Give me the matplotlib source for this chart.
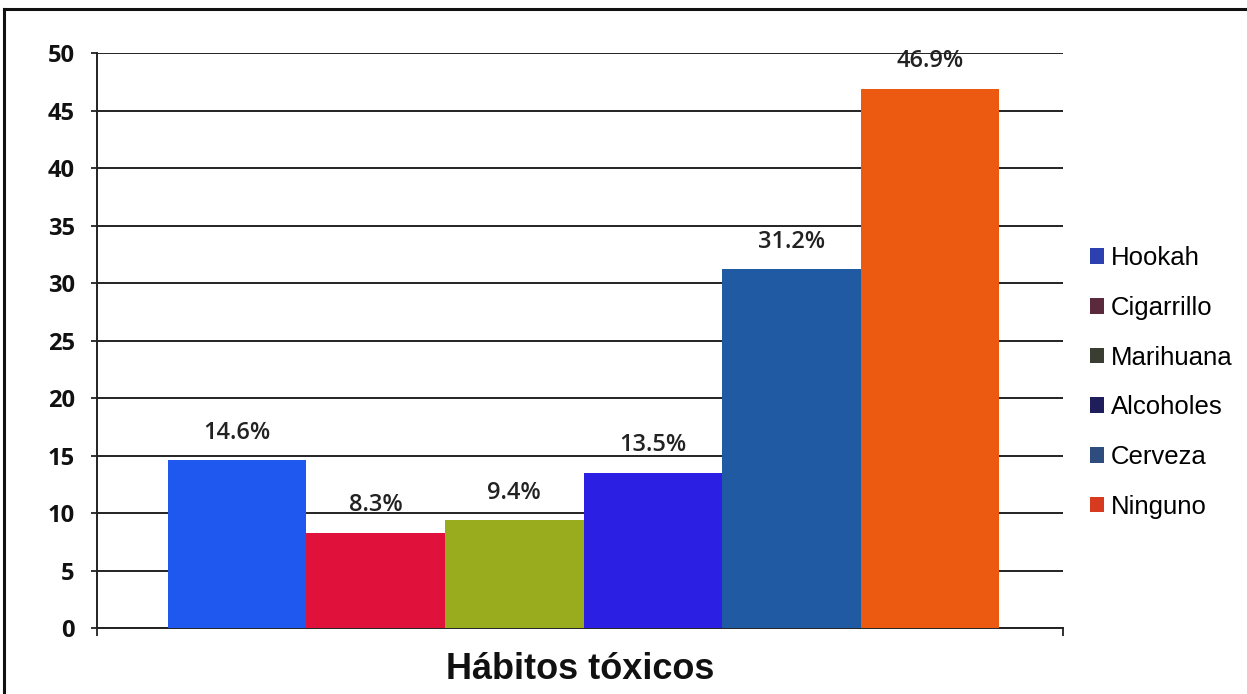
import matplotlib
matplotlib.use("Agg")
import matplotlib.pyplot as plt
from matplotlib.patches import Patch
from matplotlib.lines import Line2D

habits = ["Hookah", "Cigarrillo", "Marihuana", "Alcoholes", "Cerveza", "Ninguno"]
percent = [14.6, 8.3, 9.4, 13.5, 31.2, 46.9]
bar_colours = ["#1f58ee", "#e0123c", "#98ac1e", "#2a1fe2", "#1f5aa2", "#ec5a12"]
legend_colours = ["#2c40b0", "#5a2a3c", "#3a3d32", "#1f1d5c", "#2f4c7e", "#d83a20"]
y_ticks = [0, 5, 10, 15, 20, 25, 30, 35, 40, 45, 50]

figure = plt.figure(figsize=(12.47, 6.94), dpi=100)
axes = figure.add_axes([0.0778, 0.0951, 0.7747, 0.8285])

positions = list(range(len(habits)))
axes.bar(positions, percent, width=1.0, color=bar_colours, zorder=3)
for x, v in zip(positions, percent):
    axes.annotate("%.1f%%" % v, (x, v), xytext=(0, 11), textcoords="offset points",
                  ha="center", va="bottom", fontsize=17, family="Open Sans",
                  fontweight="semibold", color="#222222")

axes.set_ylim(0, 50)
axes.set_xlim(-1.01, 5.96)
axes.set_yticks(y_ticks)
axes.set_yticklabels([str(t) for t in y_ticks], fontsize=17, fontweight="bold",
                     family="Open Sans", color="#111111")
axes.set_xticks([-1.01, 5.96])
axes.set_xticklabels(["", ""])
axes.tick_params(axis="y", length=4, width=1.3, pad=12, color="#222222")
axes.tick_params(axis="x", length=6, width=1.3, color="#222222")
axes.grid(axis="y", color="#222222", linewidth=1.4, zorder=0)
for side in ["top", "right"]:
    axes.spines[side].set_visible(False)
for side in ["left", "bottom"]:
    axes.spines[side].set_linewidth(1.4)
    axes.spines[side].set_color("#222222")
axes.set_xlabel("Hábitos tóxicos", fontsize=26, fontweight="bold",
                family="Liberation Sans", labelpad=8, color="#111111")

handles = [Patch(facecolor=c, label=h) for c, h in zip(legend_colours, habits)]
figure.legend(handles=handles, loc="center left", bbox_to_anchor=(0.8555, 0.449),
              frameon=False, handlelength=0.55, handleheight=0.55,
              handletextpad=0.25, labelspacing=1.0,
              prop={"family": "Liberation Sans", "size": 18.5})

# frame lines along the top and left edges
figure.add_artist(Line2D([0.0036, 0.0036], [0, 0.987], color="#111111", lw=2.2))
figure.add_artist(Line2D([0.0036, 1], [0.987, 0.987], color="#111111", lw=2.2))

figure.savefig("out.png", dpi=100)
